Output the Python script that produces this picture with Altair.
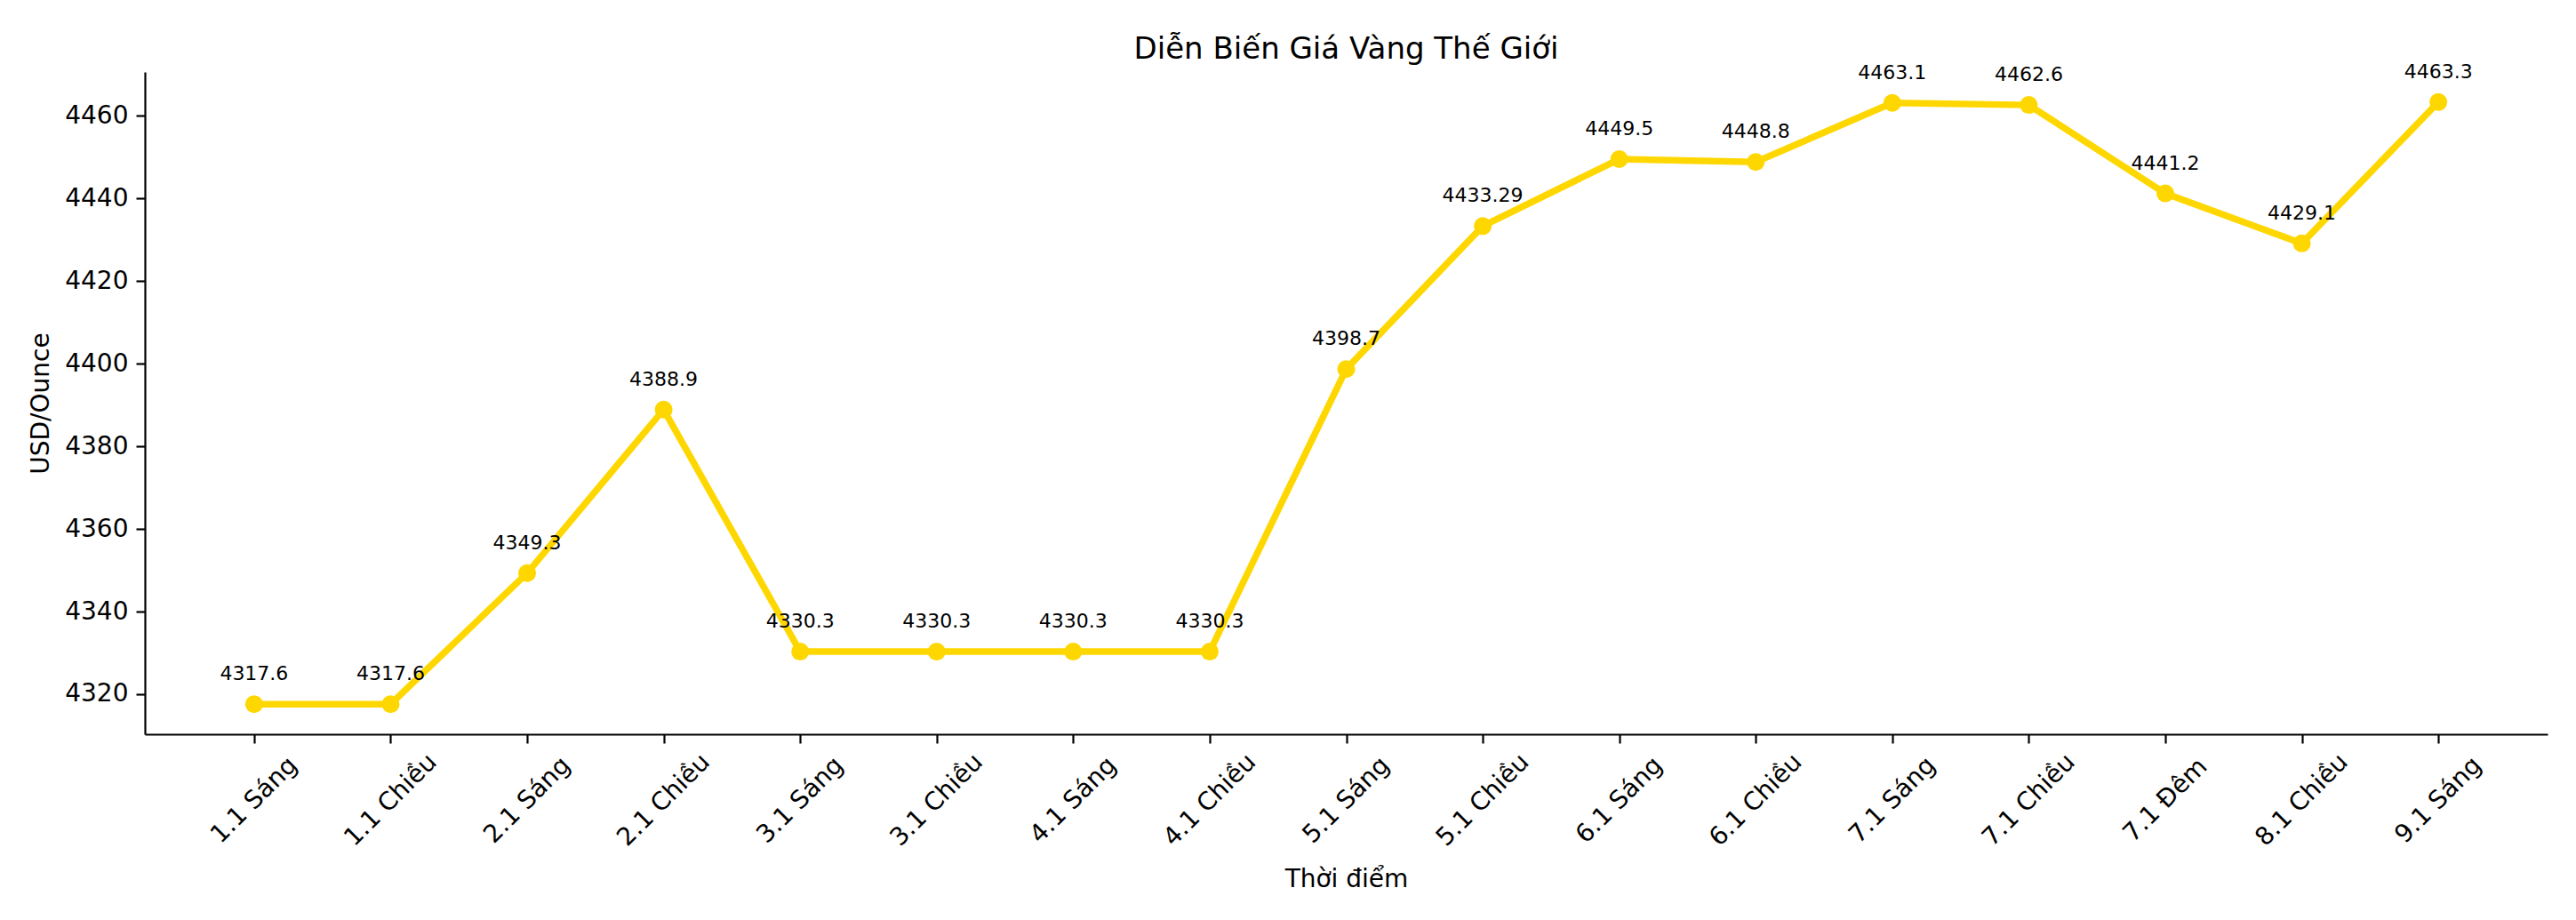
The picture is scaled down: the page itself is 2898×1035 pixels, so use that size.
import altair as alt
import pandas as pd

times = ["1.1 Sáng", "1.1 Chiều", "2.1 Sáng", "2.1 Chiều", "3.1 Sáng", "3.1 Chiều",
         "4.1 Sáng", "4.1 Chiều", "5.1 Sáng", "5.1 Chiều", "6.1 Sáng", "6.1 Chiều",
         "7.1 Sáng", "7.1 Chiều", "7.1 Đêm", "8.1 Chiều", "9.1 Sáng"]
prices = [4317.6, 4317.6, 4349.3, 4388.9, 4330.3, 4330.3, 4330.3, 4330.3, 4398.7,
          4433.29, 4449.5, 4448.8, 4463.1, 4462.6, 4441.2, 4429.1, 4463.3]
y_ticks = [4320, 4340, 4360, 4380, 4400, 4420, 4440, 4460]

df = pd.DataFrame({"time": times, "price": prices, "label": [str(p) for p in prices]})

lo, hi = min(prices), max(prices)
m = (hi - lo) * 0.05
FONT = "DejaVu Sans"
GOLD = "#FFD700"

x = alt.X("time:N", sort=times, title="Thời điểm",
          scale=alt.Scale(type="point", padding=0.8),
          axis=alt.Axis(labelAngle=-45, labelAlign="center", labelBaseline="middle",
                        labelPadding=64, tickSize=10, labelOverlap=False,
                        titleY=163, titleBaseline="middle"))
y = alt.Y("price:Q", title="USD/Ounce",
          scale=alt.Scale(domain=[lo - m, hi + m], nice=False, zero=False),
          axis=alt.Axis(values=y_ticks, format="d", grid=False, tickSize=10, labelPadding=9,
                        titleX=-117, titleBaseline="middle"))

base = alt.Chart(df).encode(x=x, y=y)
line = base.mark_line(color=GOLD, strokeWidth=7.5)
pts = base.mark_point(filled=True, shape="circle", size=400, color=GOLD, opacity=1)
txt = base.mark_text(dy=-27, baseline="alphabetic", align="center", fontSize=22,
                     font=FONT, color="black").encode(text="label:N")

chart = (line + pts + txt).properties(
    width=2703, height=745,
    title=alt.TitleParams("Diễn Biến Giá Vàng Thế Giới", fontSize=34, font=FONT,
                          fontWeight="normal", anchor="middle", offset=-3, color="black"),
    autosize=alt.AutoSizeParams(type="none"),
    padding={"left": 155, "top": 73, "right": 20, "bottom": 190},
).configure_view(stroke=None).configure_axis(
    labelFont=FONT, titleFont=FONT, labelFontSize=28, titleFontSize=28,
    labelColor="black", titleColor="black", titleFontWeight="normal",
    domainColor="black", tickColor="black", domainWidth=2.2, tickWidth=2.2,
)

chart.save("out.html", embed_options={"renderer": "svg", "actions": False})
